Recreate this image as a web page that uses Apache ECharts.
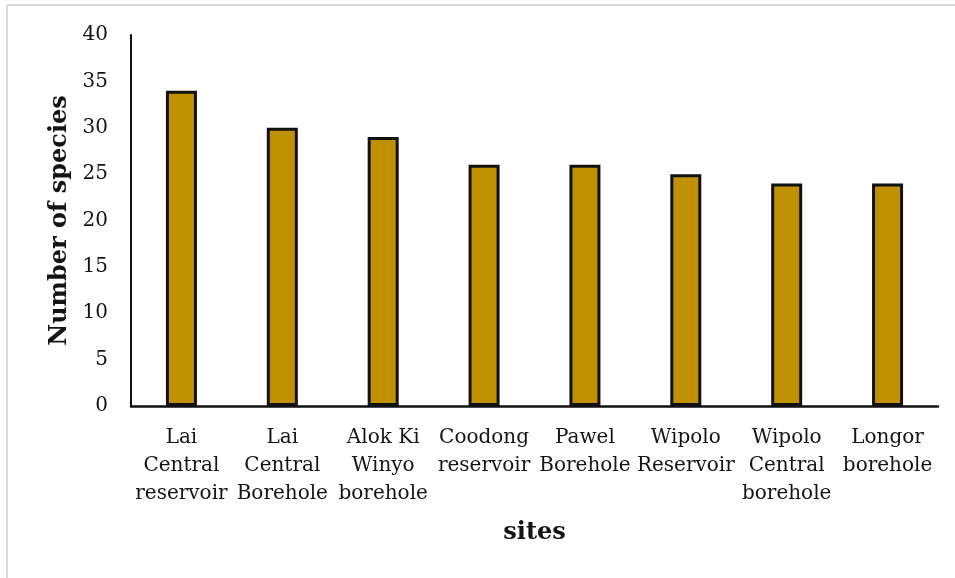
<!DOCTYPE html>
<html>
<head>
<meta charset="utf-8">
<script src="https://cdn.jsdelivr.net/npm/echarts@6/dist/echarts.min.js"></script>
<style>
  html, body { margin: 0; padding: 0; background: #ffffff; }
  #chart { width: 955px; height: 578px; }
</style>
</head>
<body>
<div id="chart"></div>
<script>
// Site names (line breaks as they wrap under the bars)
const sites = [
  'Lai\nCentral\nreservoir',
  'Lai\nCentral\nBorehole',
  'Alok Ki\nWinyo\nborehole',
  'Coodong\nreservoir',
  'Pawel\nBorehole',
  'Wipolo\nReservoir',
  'Wipolo\nCentral\nborehole',
  'Longor\nborehole'
];
// Number of species recorded at each site
const speciesCount = [34, 30, 29, 26, 26, 25, 24, 24];
// Value axis range
const yMin = 0, yMax = 40, yStep = 5;

const FONT = '"DejaVu Serif", "Liberation Serif", serif';
const TEXT = '#141414';

const chart = echarts.init(document.getElementById('chart'), null, { renderer: 'canvas' });
chart.setOption({
  animation: false,
  backgroundColor: '#ffffff',
  grid: { left: 131, right: 17, top: 35, bottom: 172, containLabel: false },
  graphic: [
    { type: 'line', shape: { x1: 7, y1: 5, x2: 7, y2: 578 }, style: { stroke: '#d9d9d9', lineWidth: 2 } },
    { type: 'line', shape: { x1: 7, y1: 5, x2: 955, y2: 5 }, style: { stroke: '#d9d9d9', lineWidth: 2 } }
  ],
  xAxis: {
    type: 'category',
    data: sites,
    name: 'sites',
    nameLocation: 'middle',
    nameGap: 127,
    nameTextStyle: { fontFamily: FONT, fontSize: 24, fontWeight: 'bold', color: TEXT, verticalAlign: 'middle' },
    axisLine: { show: true, lineStyle: { color: '#111', width: 2.5 } },
    axisTick: { show: false },
    axisLabel: {
      interval: 0, margin: 18, fontFamily: FONT, fontSize: 20, lineHeight: 28,
      color: TEXT, align: 'center', verticalAlign: 'top'
    },
    splitLine: { show: false }
  },
  yAxis: {
    type: 'value',
    min: yMin, max: yMax, interval: yStep,
    name: 'Number of species',
    nameLocation: 'middle',
    nameRotate: 90,
    nameGap: 71,
    nameTextStyle: { fontFamily: FONT, fontSize: 24, fontWeight: 'bold', color: TEXT, verticalAlign: 'middle' },
    axisLine: { show: true, lineStyle: { color: '#111', width: 2 } },
    axisTick: { show: false },
    axisLabel: { margin: 23, fontFamily: FONT, fontSize: 20, color: TEXT },
    splitLine: { show: false }
  },
  series: [{
    type: 'bar',
    data: speciesCount,
    barWidth: 31,
    itemStyle: { color: '#BF9000', borderColor: '#111', borderWidth: 3 }
  }]
});
</script>
</body>
</html>
